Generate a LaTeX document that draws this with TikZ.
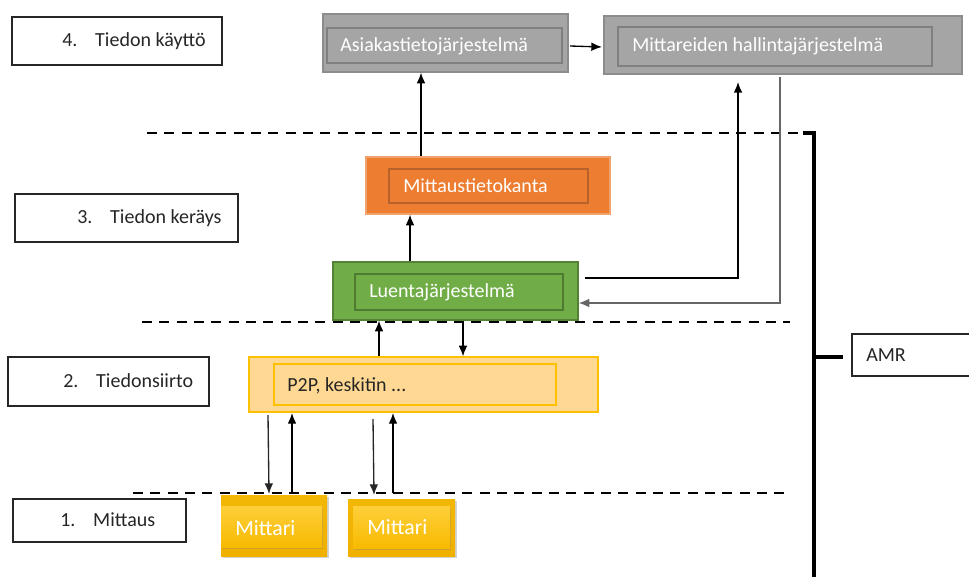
\documentclass[tikz,border=0pt]{standalone}
\usepackage{fontspec}
\setmainfont{Carlito}
\usetikzlibrary{arrows.meta,fit,shadows}
\definecolor{gfill}{HTML}{A5A5A5}
\definecolor{gline}{HTML}{8C8C8C}
\definecolor{ginner}{HTML}{7F7F7F}
\definecolor{ofill}{HTML}{ED7D31}
\definecolor{oline}{HTML}{F1A36E}
\definecolor{oinner}{HTML}{B9612A}
\definecolor{grfill}{HTML}{70AD47}
\definecolor{grline}{HTML}{548235}
\definecolor{grinner}{HTML}{4E7A31}
\definecolor{pfill}{HTML}{FFD993}
\definecolor{pline}{HTML}{FFC000}
\definecolor{mtop}{HTML}{F2B705}
\definecolor{mbot}{HTML}{F0B000}
\definecolor{mitop}{HTML}{FFCF3A}
\definecolor{mibot}{HTML}{F7BA00}
\definecolor{txt}{HTML}{262626}
\begin{document}
\begin{tikzpicture}[x=0.75pt,y=-0.75pt,
  box/.style={inner sep=0pt,fit={#1}},
  lblbox/.style={box={#1},draw=txt,line width=0.9pt,fill=white},
  lbltext/.style={anchor=west,inner sep=0pt,text=txt,font=\fontsize{15}{18}\selectfont},
  wtext/.style={anchor=west,inner sep=0pt,text=white,font=\fontsize{15}{18}\selectfont},
  dashline/.style={line width=1.9pt,dash pattern=on 7.5pt off 5.5pt},
  arr/.style={line width=1pt,-{Latex[length=8pt,width=6.5pt]}},
  mittari/.style={box={#1},shade,top color=mtop,bottom color=mbot,drop shadow={shadow xshift=1.2pt,shadow yshift=-1.5pt,opacity=0.35}},
  mittariin/.style={box={#1},shade,top color=mitop,bottom color=mibot,drop shadow={shadow xshift=1pt,shadow yshift=-1.5pt,opacity=0.3}}
]
\useasboundingbox (0,0) rectangle (969,577);

% dashed separators
\coordinate (d1a) at (147,133); \coordinate (d1b) at (802,133);
\coordinate (d2a) at (142,322); \coordinate (d2b) at (790,322);
\coordinate (d3a) at (133,493); \coordinate (d3b) at (785,493);
\draw[dashline] (d1a) -- (d1b);
\draw[dashline] (d2a) -- (d2b);
\draw[dashline] (d3a) -- (d3b);

% AMR bracket
\coordinate (bt) at (814,133); \coordinate (bb) at (814,578);
\coordinate (bm) at (814,357); \coordinate (bh) at (803,133);
\coordinate (bm2) at (843,357);
\draw[line width=2.3pt] (bh) -- (bt) -- (bb);
\node[box={(852,334) (975,376)},draw=txt,line width=0.9pt,fill=white] (amr) {};
\draw[line width=2.3pt] (bm) -- (bm2);
\node[lbltext] (amrt) at (866,355) {AMR};

% layer labels
\node[lblbox={(12,17) (222,65)}] (l4) {};
\node[lbltext] (l4t) at (62,41) {\makebox[24.75pt][l]{4.}Tiedon käyttö};
\node[lblbox={(15,194) (238,242)}] (l3) {};
\node[lbltext] (l3t) at (77,218) {\makebox[24.75pt][l]{3.}Tiedon keräys};
\node[lblbox={(8,357) (209,406)}] (l2) {};
\node[lbltext] (l2t) at (63,381) {\makebox[24.75pt][l]{2.}Tiedonsiirto};
\node[lblbox={(13,499) (186,542)}] (l1) {};
\node[lbltext] (l1t) at (60,520) {\makebox[24.75pt][l]{1.}Mittaus};

% gray boxes
\node[box={(323,14) (568,72)},fill=gfill,draw=gline,line width=0.9pt] (asi) {};
\node[box={(327,28) (562,63)},draw=ginner,line width=0.9pt] (asiin) {};
\node[wtext] (asit) at (340,46) {Asiakastietojärjestelmä};
\node[box={(604,16) (962,74)},fill=gfill,draw=gline,line width=0.9pt] (mhj) {};
\node[box={(618,27) (932,66)},draw=ginner,line width=0.9pt] (mhjin) {};
\node[wtext] (mhjt) at (632,46) {Mittareiden hallintajärjestelmä};

% orange
\node[box={(366,157) (610,214)},fill=ofill,draw=oline,line width=0.9pt] (mtk) {};
\node[box={(389,169) (588,203)},draw=oinner,line width=0.9pt] (mtkin) {};
\node[wtext] (mtkt) at (403,186) {Mittaustietokanta};

% green
\node[box={(333,262) (578,320)},fill=grfill,draw=grline,line width=0.9pt] (luj) {};
\node[box={(355,274) (563,310)},draw=grinner,line width=0.9pt] (lujin) {};
\node[wtext] (lujt) at (369,292) {Luentajärjestelmä};

% P2P
\node[box={(249,357) (598,412)},fill=pfill,draw=pline,line width=0.9pt] (p2p) {};
\node[box={(274,364) (556,405)},draw=pline,line width=0.9pt] (p2pin) {};
\node[lbltext] (p2pt) at (287,386) {P2P, keskitin ...};

% meters
\node[mittari={(221,495) (327,556)}] (m1) {};
\node[mittariin={(221,506) (322,547)}] (m1in) {};
\node[wtext,font=\fontsize{16.3}{19}\selectfont] (m1t) at (235,528) {Mittari};
\node[mittari={(348,499) (455,556)}] (m2) {};
\node[mittariin={(353,506) (450,548)}] (m2in) {};
\node[wtext,font=\fontsize{16.3}{19}\selectfont] (m2t) at (367,527) {Mittari};

% connectors
\coordinate (c421) at (421,0);
\coordinate (c410) at (410,0);
\draw[arr] (c421 |- mtk.north) -- (c421 |- asi.south);
\draw[arr] (c410 |- luj.north) -- (c410 |- mtk.south);
\coordinate (aa) at (570,46); \coordinate (ab) at (602,47);
\draw[arr] (aa) -- (ab);

\coordinate (r1) at (585,278); \coordinate (r1c) at (738,278); \coordinate (r1e) at (738,82);
\draw[arr] (r1) -- (r1c) -- (r1e);
\coordinate (r2) at (780,77); \coordinate (r2c) at (780,303);
\draw[arr,draw=ginner!80!black] (r2) -- (r2c) -- (luj.east |- r2c);

\coordinate (c379) at (379,0); \coordinate (c463) at (463,0);
\coordinate (c463s) at (463,323);
\draw[arr] (c379 |- p2p.north) -- (c379 |- luj.south);
\draw[arr] (c463s) -- (c463 |- p2p.north);

\coordinate (a1s) at (268,415); \coordinate (a1e) at (269,494);
\draw[arr,draw=txt] (a1s) -- (a1e);
\coordinate (a2) at (292,0); \coordinate (a2e) at (292,413);
\draw[arr] (a2 |- d3a) -- (a2e);
\coordinate (a3s) at (373,419); \coordinate (a3e) at (374,495);
\draw[arr,draw=txt] (a3s) -- (a3e);
\coordinate (a4) at (393,0); \coordinate (a4e) at (393,413);
\draw[arr] (a4 |- d3a) -- (a4e);
\end{tikzpicture}
\end{document}
